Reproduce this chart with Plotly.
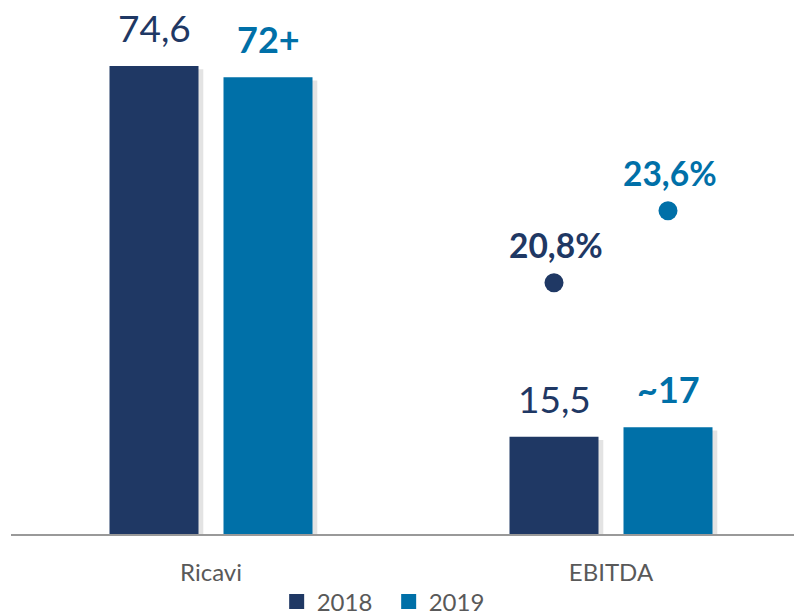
import plotly.graph_objects as go

# ---- data ----
categories = ["Ricavi", "EBITDA"]
values_2018 = [74.6, 15.5]
values_2019 = [72.8, 17.0]
labels_2018 = ["74,6", "15,5"]
labels_2019 = ["72+", "~17"]
margin_2018 = [None, 20.8]
margin_2019 = [None, 23.6]
margin_labels_2018 = ["", "20,8%"]
margin_labels_2019 = ["", "23,6%"]
series_names = ["2018", "2019"]

# ---- style ----
NAVY = "#1F3864"
BLUE = "#0070A8"
GRAY = "#595959"
FONT = "Lato"
W = 0.2225
OFF = [-0.25375, 0.03125]
xpos = list(range(len(categories)))

fig = go.Figure()

series = [
    (values_2018, labels_2018, margin_2018, margin_labels_2018, NAVY, OFF[0], False),
    (values_2019, labels_2019, margin_2019, margin_labels_2019, BLUE, OFF[1], True),
]

# shadows
for vals, _, _, _, col, off, _ in series:
    fig.add_trace(go.Bar(
        x=xpos, y=[v - 0.5 for v in vals], offset=off + 0.012, width=W,
        marker=dict(color="rgba(0,0,0,0.11)", line=dict(width=0)),
        showlegend=False, hoverinfo="skip"))

for vals, labs, marg, mlabs, col, off, bold in series:
    fig.add_trace(go.Bar(
        x=xpos, y=vals, offset=off, width=W,
        marker=dict(color=col, line=dict(width=0)),
        showlegend=False))
    fig.add_trace(go.Scatter(
        x=[p + off + W / 2 for p in xpos], y=marg, yaxis="y2",
        mode="markers", marker=dict(color=col, size=19),
        showlegend=False))
    for p, v, t in zip(xpos, vals, labs):
        fig.add_annotation(
            x=p + off + W / 2, y=v, xref="x", yref="y",
            text=f"<b>{t}</b>" if bold else t, showarrow=False,
            yanchor="bottom", yshift=14,
            font=dict(family=FONT, size=37 if not bold else 36, color=col))
    for p, v, t in zip(xpos, marg, mlabs):
        if v is None:
            continue
        fig.add_annotation(
            x=p + off + W / 2 + 0.005, y=v, xref="x", yref="y2",
            text=f"<b>{t}</b>", showarrow=False,
            yanchor="bottom", yshift=16,
            font=dict(family=FONT, size=33.5, color=col))

# legend entries
for name, col in zip(series_names, [NAVY, BLUE]):
    fig.add_trace(go.Scatter(
        x=[None], y=[None], mode="markers", name=name,
        marker=dict(symbol="square", size=15, color=col)))

fig.update_layout(
    width=802, height=622,
    margin=dict(l=3, r=0, t=0, b=96),
    paper_bgcolor="white", plot_bgcolor="white",
    font=dict(family=FONT, color=GRAY),
    barmode="overlay",
    xaxis=dict(
        range=[-0.5, 1.4975], tickvals=xpos, ticktext=categories,
        showgrid=False, zeroline=False, showline=True,
        linecolor="#999999", linewidth=2,
        ticks="", ticklabelstandoff=16,
        tickfont=dict(family=FONT, size=24, color=GRAY)),
    yaxis=dict(range=[0, 83.85], visible=False, showgrid=False),
    yaxis2=dict(range=[11.026, 31.485], overlaying="y", visible=False,
                showgrid=False),
    legend=dict(orientation="h", x=0.3325, xanchor="left",
                y=-68 / 526, yanchor="middle",
                font=dict(family=FONT, size=24, color=GRAY),
                entrywidth=67, entrywidthmode="pixels"),
    showlegend=True,
)

fig.write_html("out.html")
